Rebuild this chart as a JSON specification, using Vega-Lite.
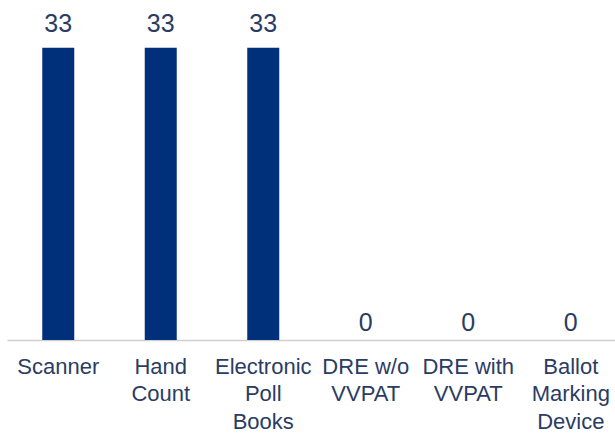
{
  "$schema": "https://vega.github.io/schema/vega-lite/v6.json",
  "width": 615,
  "height": 340,
  "padding": {"left": 7, "top": 0, "right": 0, "bottom": 93},
  "autosize": {"type": "none"},
  "background": "white",
  "config": {"view": {"stroke": null}, "font": "Liberation Sans"},
  "data": {
    "values": [
      {"category": "Scanner", "value": 33},
      {"category": "Hand|Count", "value": 33},
      {"category": "Electronic|Poll|Books", "value": 33},
      {"category": "DRE w/o|VVPAT", "value": 0},
      {"category": "DRE with|VVPAT", "value": 0},
      {"category": "Ballot|Marking|Device", "value": 0}
    ]
  },
  "encoding": {
    "x": {
      "field": "category",
      "type": "nominal",
      "sort": null,
      "scale": {"paddingInner": 0.69, "paddingOuter": 0.345},
      "axis": {
        "title": null,
        "labelAngle": 0,
        "ticks": false,
        "domainColor": "#d0d0d0",
        "domainWidth": 1.5,
        "labelColor": "#2b3c63",
        "labelFont": "Liberation Sans",
        "labelFontSize": 22,
        "labelPadding": 16,
        "labelLineHeight": 27.7,
        "labelBaseline": "top",
        "labelExpr": "split(datum.label, '|')"
      }
    },
    "y": {
      "field": "value",
      "type": "quantitative",
      "scale": {"domain": [0, 38.4], "nice": false},
      "axis": null
    }
  },
  "layer": [
    {"mark": {"type": "bar", "color": "#00307a", "size": 32}},
    {
      "transform": [{"filter": "datum.value > 0"}],
      "mark": {"type": "text", "baseline": "alphabetic", "dy": -16, "fontSize": 25, "color": "#2b3c63", "font": "Liberation Sans"},
      "encoding": {"text": {"field": "value", "type": "quantitative"}}
    },
    {
      "transform": [{"filter": "datum.value <= 0"}],
      "mark": {"type": "text", "baseline": "alphabetic", "dy": -9, "fontSize": 25, "color": "#2b3c63", "font": "Liberation Sans"},
      "encoding": {"text": {"field": "value", "type": "quantitative"}}
    }
  ]
}
